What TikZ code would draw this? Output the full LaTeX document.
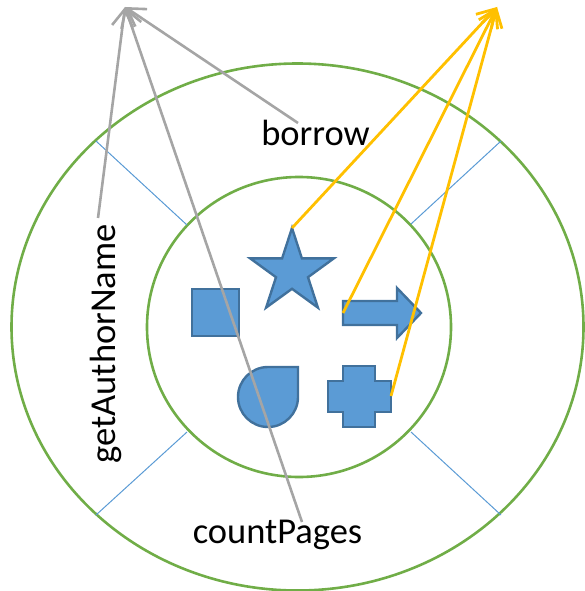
\documentclass[tikz,border=0pt]{standalone}
\usepackage{fontspec}
\setmainfont{Carlito}
\usetikzlibrary{arrows.meta}
\definecolor{ogreen}{HTML}{70AD47}
\definecolor{oblue}{HTML}{5B9BD5}
\definecolor{oblueline}{HTML}{41719C}
\definecolor{ogray}{HTML}{A5A5A5}
\definecolor{oyellow}{HTML}{FFC000}
\tikzset{
  ring/.style={draw=ogreen, line width=2.6pt},
  spoke/.style={draw=oblue, line width=1pt},
  shp/.style={fill=oblue, draw=oblueline, line width=2.4pt, line join=miter},
  label/.style={font=\fontsize{36.5}{43}\selectfont, inner sep=0pt},
  grayarrow/.style={draw=ogray, line width=2.6pt, -{Straight Barb[length=17pt, width=21pt, line width=2.6pt]}},
  yellowarrow/.style={draw=oyellow, line width=2.8pt, -{Straight Barb[length=17pt, width=21pt, line width=2.8pt]}}
}
\begin{document}
\begin{tikzpicture}[x=1pt, y=-1pt]
\useasboundingbox (0,0) rectangle (585,591);
% circles
\draw[ring] (297.5,327) ellipse [x radius=286, y radius=263.5];
\draw[ring] (299,327) ellipse [x radius=152, y radius=150];
% spokes
\draw[spoke] (96,141) -- (187,225);
\draw[spoke] (501,141) -- (411,224);
\draw[spoke] (96,515) -- (187,432);
\draw[spoke] (501,515) -- (411,432);
% shapes
\draw[shp] (192,289) rectangle (239,336);
\draw[shp] (292,228) -- (301.9,258.4) -- (333.8,258.4) -- (308.0,277.2) -- (317.9,307.6)
  -- (292,288.8) -- (266.1,307.6) -- (276.0,277.2) -- (250.2,258.4) -- (282.1,258.4) -- cycle;
\draw[shp] (343,301) -- (397,301) -- (397,288) -- (421,313) -- (397,338) -- (397,325) -- (343,325) -- cycle;
\draw[shp] (268,367) -- (298,367) -- (298,397) arc[start angle=0, end angle=270, radius=30] -- cycle;
\draw[shp] (343,366) -- (375,366) -- (375,381) -- (391,381) -- (391,412) -- (375,412) -- (375,427)
  -- (343,427) -- (343,412) -- (328,412) -- (328,381) -- (343,381) -- cycle;
% labels
\node[label, anchor=base] (borrow) at (315.5,146) {borrow};
\node[label, anchor=base] (count) at (277.5,543) {countPages};
\node[label, anchor=base, rotate=90] (author) at (115,344) {getAuthorName};
% anchor points
\coordinate (gtip) at (125,7);
\coordinate (ytip) at (497,7);
\coordinate (bstart) at (298,123);
\coordinate (cstart) at (302,522);
\coordinate (astart) at (98,218);
\coordinate (startop) at (292,228);
\coordinate (arrowleft) at (343,313);
\coordinate (plusright) at (391,396);
% connectors
\draw[grayarrow] (astart) -- (gtip);
\draw[grayarrow] (bstart) -- (gtip);
\draw[grayarrow] (cstart) -- (gtip);
\draw[yellowarrow] (startop) -- (ytip);
\draw[yellowarrow] (arrowleft) -- (ytip);
\draw[yellowarrow] (plusright) -- (ytip);
\end{tikzpicture}
\end{document}
